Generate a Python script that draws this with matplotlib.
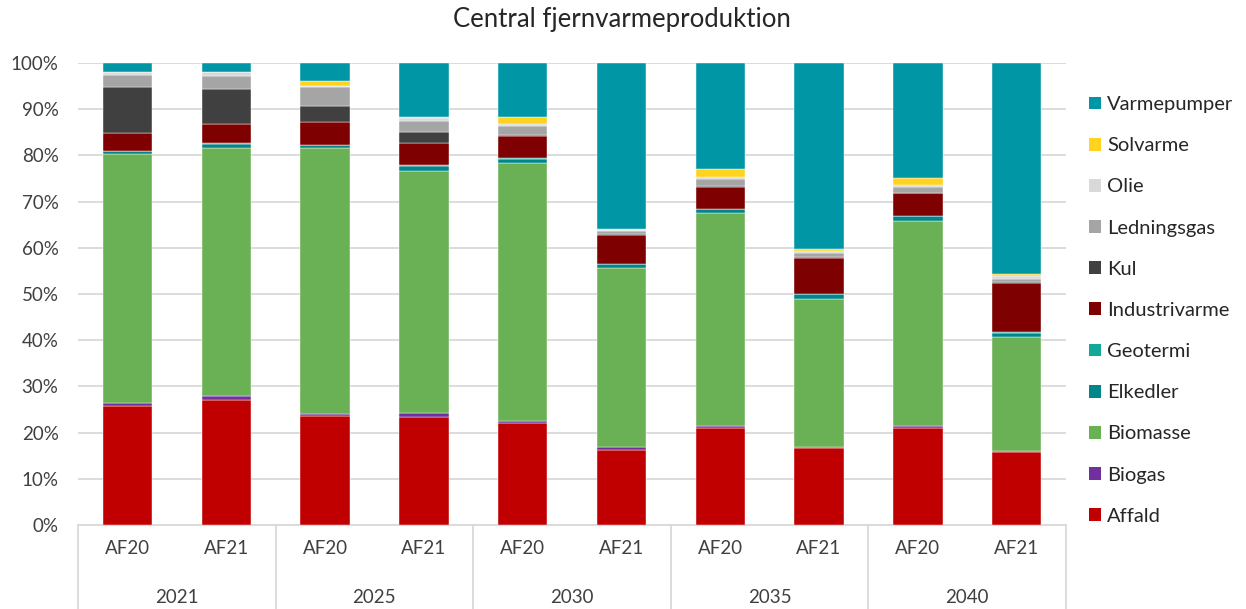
import matplotlib.pyplot as plt
import matplotlib.transforms as mtransforms
from matplotlib.patches import Patch
import numpy as np

plt.rcParams['font.family'] = ['Lato', 'DejaVu Sans']

years = ['2021', '2025', '2030', '2035', '2040']
scenarios = ['AF20', 'AF21'] * 5

# shares in percent, one value per bar (2021 AF20, 2021 AF21, 2025 AF20, ...)
affald = [25.8, 27.0, 23.6, 23.4, 22.1, 16.2, 21.0, 16.7, 21.0, 15.8]
biogas = [0.5, 0.9, 0.4, 0.8, 0.4, 0.6, 0.4, 0.2, 0.4, 0.2]
biomasse = [54.1, 53.6, 57.7, 52.5, 55.9, 38.9, 46.1, 32.1, 44.4, 24.6]
elkedler = [0.5, 1.0, 0.5, 1.1, 0.9, 0.8, 0.8, 0.9, 1.0, 0.9]
geotermi = [0.1, 0.2, 0.1, 0.1, 0.1, 0.1, 0.1, 0.1, 0.1, 0.2]
industrivarme = [3.9, 4.0, 4.9, 4.8, 4.8, 6.2, 4.8, 7.9, 4.9, 10.7]
kul = [9.8, 7.7, 3.5, 2.3, 0.2, 0.1, 0.1, 0.1, 0.1, 0.1]
ledningsgas = [2.6, 2.8, 4.0, 2.4, 2.0, 0.7, 1.7, 0.8, 1.3, 0.7]
olie = [0.7, 0.8, 0.4, 0.7, 0.4, 0.3, 0.4, 0.4, 0.4, 0.6]
solvarme = [0.0, 0.0, 1.1, 0.3, 1.6, 0.1, 1.6, 0.5, 1.6, 0.5]
varmepumper = [2.0, 2.0, 3.8, 11.6, 11.6, 36.0, 23.0, 40.3, 24.8, 45.7]

series = [
    ('Affald', affald, '#C00000'),
    ('Biogas', biogas, '#7030A0'),
    ('Biomasse', biomasse, '#6AB055'),
    ('Elkedler', elkedler, '#00868B'),
    ('Geotermi', geotermi, '#12A99A'),
    ('Industrivarme', industrivarme, '#7F0000'),
    ('Kul', kul, '#404040'),
    ('Ledningsgas', ledningsgas, '#A5A5A5'),
    ('Olie', olie, '#D9D9D9'),
    ('Solvarme', solvarme, '#FFD320'),
    ('Varmepumper', varmepumper, '#0096A6'),
]

fig = plt.figure(figsize=(12.46, 6.09), dpi=100)
ax = fig.add_axes([78/1246, 1-525/609, (1066-78)/1246, (525-63)/609])

x = np.arange(len(scenarios))
bottom = np.zeros(len(scenarios))
for name, vals, col in series:
    vals = np.array(vals)
    ax.bar(x, vals, 0.5, bottom=bottom, color=col, edgecolor='white',
           linewidth=0.3, zorder=3)
    bottom += vals

ax.set_xlim(-0.5, 9.5)
ax.set_ylim(0, 100)
ax.set_yticks(range(0, 101, 10))
ax.set_yticklabels([f'{v}%' for v in range(0, 101, 10)])
ax.yaxis.grid(True, color='#D9D9D9', linewidth=1.3, zorder=0)
ax.set_axisbelow(True)
for s in ['left', 'right', 'top']:
    ax.spines[s].set_visible(False)
ax.spines['bottom'].set_color('#D9D9D9')
ax.spines['bottom'].set_linewidth(1.3)
ax.tick_params(axis='y', length=0, pad=14, labelsize=13.5, labelcolor='#404040')
ax.tick_params(axis='x', length=0, pad=11, labelsize=13.5, labelcolor='#404040')
ax.set_xticks(x)
ax.set_xticklabels(scenarios)

# second level: years and separators
trans = mtransforms.blended_transform_factory(ax.transData, ax.transAxes)
for i, yr in enumerate(years):
    ax.text(2*i + 0.5, -0.156, yr, transform=trans, ha='center', va='center',
            fontsize=13.5, color='#404040')
for xs in np.arange(-0.5, 10, 2):
    ax.plot([xs, xs], [0, -0.2], transform=trans, color='#D9D9D9',
            linewidth=1.3, clip_on=False)

fig.suptitle('Central fjernvarmeproduktion', x=622/1246, y=1-20/609,
             va='center', fontsize=18.5, color='#262626')

handles = [Patch(facecolor=c, edgecolor='none') for _, _, c in series][::-1]
labels = [n for n, _, _ in series][::-1]
fig.legend(handles, labels, loc='upper left', bbox_to_anchor=(1071/1246, 1-78/609),
           frameon=False, fontsize=14.5, labelspacing=1.2, handlelength=0.6,
           handleheight=0.6, handletextpad=0.3, labelcolor='#262626')

fig.savefig('out.png', dpi=100)
